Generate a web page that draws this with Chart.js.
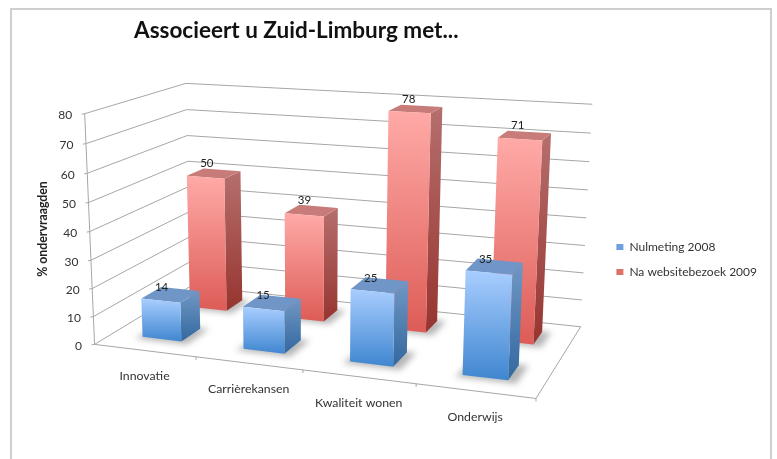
<!DOCTYPE html>
<html lang="nl">
  <head>
    <meta charset="utf-8" />
    <title>Associeert u Zuid-Limburg met...</title>
    <style>
      body { margin: 0; background: #fff; }
      #frame { position: absolute; left: 10px; top: 8px; width: 758px; height: 460px; border: 2px solid #cfcfcf; }
      canvas { position: absolute; left: 0; top: 0; filter: blur(0.4px); }
      #wrap { position: relative; width: 777px; height: 459px; overflow: hidden; }
    </style>
    <script src="https://cdn.jsdelivr.net/npm/chart.js@4"></script>
  </head>

  <body>
    <div id="wrap">
      <div id="frame"></div>
      <canvas id="compare" width="777" height="459"></canvas>
    </div>

    <script>
      var categories = ["Innovatie", "Carrièrekansen", "Kwaliteit wonen", "Onderwijs"];
      var nulmeting = [14, 15, 25, 35];
      var websitebezoek = [50, 39, 78, 71];
      var seriesNames = ["Nulmeting 2008", "Na websitebezoek 2009"];
      var axisTitle = "% ondervraagden";
      var chartTitle = "Associeert u Zuid-Limburg met...";

      // corners of the 3d box on screen: [along categories, depth, height] -> [x, y]
      var boxCorners = [
        [0, 0, 0, 95.7, 342.7],
        [1, 0, 0, 536, 400],
        [1, 1, 0, 581, 325],
        [0, 1, 0, 189.5, 288],
        [0, 0, 1, 83.5, 114],
        [0, 1, 1, 187.3, 82.7],
        [1, 1, 1, 592, 104.7],
      ];
      // depth slot of each series inside the box
      var depthSlots = [[0.17, 0.37], [0.67, 0.86]];
      var labelOffsets = [[-9, -7], [-7, -10]];
      var faceColors = [
        { front: ["#a9ceff", "#3f86d0"], side: ["#7097c4", "#33689f"], top: "#7096c8" },
        { front: ["#ffaaa7", "#dd5c57"], side: ["#b56f6d", "#97342f"], top: "#c77c79" },
      ];
      var font = "Lato, 'Open Sans', sans-serif";

      // least squares fit of the projection matrix from the corners
      function fitProjection(pts) {
        var rows = [], rhs = [];
        pts.forEach(function (p) {
          rows.push([p[0], p[1], p[2], 1, 0, 0, 0, 0, -p[3] * p[0], -p[3] * p[1], -p[3] * p[2]]);
          rhs.push(p[3]);
          rows.push([0, 0, 0, 0, p[0], p[1], p[2], 1, -p[4] * p[0], -p[4] * p[1], -p[4] * p[2]]);
          rhs.push(p[4]);
        });
        var n = 11, m = [];
        for (var i = 0; i < n; i++) {
          m[i] = [];
          for (var j = 0; j <= n; j++) {
            var s = 0;
            rows.forEach(function (r, k) { s += r[i] * (j < n ? r[j] : rhs[k]); });
            m[i][j] = s;
          }
        }
        for (var c = 0; c < n; c++) {
          var best = c;
          for (var r = c + 1; r < n; r++) if (Math.abs(m[r][c]) > Math.abs(m[best][c])) best = r;
          var tmp = m[c]; m[c] = m[best]; m[best] = tmp;
          for (var r2 = 0; r2 < n; r2++) {
            if (r2 == c) continue;
            var f = m[r2][c] / m[c][c];
            for (var k = c; k <= n; k++) m[r2][k] -= f * m[c][k];
          }
        }
        return m.map(function (row, idx) { return row[n] / row[idx]; });
      }

      var P = fitProjection(boxCorners);
      function project(u, v, h) {
        var d = P[8] * u + P[9] * v + P[10] * h + 1;
        return {
          x: (P[0] * u + P[1] * v + P[2] * h + P[3]) / d,
          y: (P[4] * u + P[5] * v + P[6] * h + P[7]) / d,
        };
      }

      function path(ctx, pts) {
        ctx.beginPath();
        pts.forEach(function (p, i) {
          if (i == 0) ctx.moveTo(p.x, p.y);
          else ctx.lineTo(p.x, p.y);
        });
        ctx.closePath();
      }

      function line(ctx, a, b) {
        ctx.beginPath();
        ctx.moveTo(a.x, a.y);
        ctx.lineTo(b.x, b.y);
        ctx.stroke();
      }

      function vGrad(ctx, top, bottom, cols) {
        var g = ctx.createLinearGradient(0, top, 0, bottom);
        g.addColorStop(0, cols[0]);
        g.addColorStop(1, cols[1]);
        return g;
      }

      function drawBox(c) {
        var ctx = c.ctx;
        ctx.save();
        ctx.lineWidth = 1;
        ctx.strokeStyle = "#a6a6a6";
        var x = c.scales.x, y = c.scales.y;
        y.ticks.forEach(function (t) {
          var h = (y.bottom - y.getPixelForValue(t.value)) / y.height;
          var a = project(0, 0, h), b = project(0, 1, h), e = project(1, 1, h);
          line(ctx, a, b);
          line(ctx, b, e);
          line(ctx, a, { x: a.x - 3, y: a.y + 0.5 });
          ctx.font = "12px " + font;
          ctx.fillStyle = "#333";
          ctx.textAlign = "right";
          ctx.textBaseline = "middle";
          ctx.fillText(t.label, a.x - 12.5, a.y + 1.5);
        });
        line(ctx, project(0, 0, 0), project(0, 0, 1));
        line(ctx, project(0, 0, 0), project(1, 0, 0));
        line(ctx, project(1, 0, 0), project(1, 1, 0));

        categories.forEach(function (name, i) {
          var t = project((i + 1) / categories.length, 0, 0);
          line(ctx, t, { x: t.x, y: t.y + 3 });
          var m = project((x.getPixelForValue(i) - x.left) / x.width, 0, 0);
          ctx.font = "12.3px " + font;
          ctx.fillStyle = "#333";
          ctx.textAlign = "center";
          ctx.textBaseline = "middle";
          ctx.fillText(name, m.x, m.y + 26);
        });

        ctx.translate(43, 229);
        ctx.rotate(-Math.PI / 2);
        ctx.font = "bold 12.3px " + font;
        ctx.fillStyle = "#222";
        ctx.textAlign = "center";
        ctx.textBaseline = "middle";
        ctx.fillText(axisTitle, 0, 0);
        ctx.restore();
      }

      function drawBar(c, bar, cols, slot, offset, value) {
        var ctx = c.ctx, area = c.chartArea;
        var u0 = (bar.x - bar.width / 2 - area.left) / area.width;
        var u1 = (bar.x + bar.width / 2 - area.left) / area.width;
        var h = (bar.base - bar.y) / area.height;
        var v0 = slot[0], v1 = slot[1];

        // soft shadow on the floor
        ctx.save();
        ctx.filter = "blur(3px)";
        ctx.fillStyle = "rgba(90,90,90,0.45)";
        path(ctx, [project(u0 - 0.012, v0 - 0.03, 0), project(u1 + 0.02, v0 - 0.03, 0), project(u1 + 0.02, v1 + 0.01, 0), project(u0, v1, 0)]);
        ctx.fill();
        ctx.restore();

        var fl = project(u0, v0, h), fr = project(u1, v0, h);
        var bl = project(u0, v1, h), br = project(u1, v1, h);
        var flb = project(u0, v0, 0), frb = project(u1, v0, 0), brb = project(u1, v1, 0);

        ctx.fillStyle = vGrad(ctx, Math.min(fr.y, br.y), Math.max(frb.y, brb.y), cols.side);
        path(ctx, [fr, br, brb, frb]);
        ctx.fill();
        ctx.fillStyle = cols.top;
        path(ctx, [fl, fr, br, bl]);
        ctx.fill();
        ctx.fillStyle = vGrad(ctx, Math.min(fl.y, fr.y), Math.max(flb.y, frb.y), cols.front);
        path(ctx, [fl, fr, frb, flb]);
        ctx.fill();

        var mid = project((u0 + u1) / 2, (v0 + v1) / 2, h);
        ctx.font = "11.5px " + font;
        ctx.fillStyle = "#222";
        ctx.textAlign = "center";
        ctx.textBaseline = "middle";
        ctx.fillText(value, mid.x + offset[0], mid.y + offset[1]);
      }

      // the bars are laid out by chart.js, this only draws them in perspective
      var perspective3d = {
        id: "perspective3d",
        beforeDatasetsDraw: function (c) {
          drawBox(c);
          [1, 0].forEach(function (d) {
            c.getDatasetMeta(d).data.forEach(function (bar, i) {
              drawBar(c, bar, faceColors[d], depthSlots[d], labelOffsets[d], c.data.datasets[d].data[i]);
            });
          });
          return false;
        },
      };

      var chart = new Chart(document.getElementById("compare").getContext("2d"), {
        type: "bar",
        data: {
          labels: categories,
          datasets: [
            { label: seriesNames[0], data: nulmeting, backgroundColor: "#6f9fe0", grouped: false },
            { label: seriesNames[1], data: websitebezoek, backgroundColor: "#e0706a", grouped: false },
          ],
        },
        plugins: [perspective3d],
        options: {
          responsive: false,
          animation: false,
          categoryPercentage: 0.625,
          barPercentage: 0.625,
          layout: { padding: { left: 134, right: 10, top: 17, bottom: 43 } },
          scales: {
            x: { display: false },
            y: { display: false, min: 0, max: 80, ticks: { stepSize: 10 } },
          },
          plugins: {
            tooltip: { enabled: false },
            title: {
              display: true,
              text: chartTitle,
              align: "start",
              color: "#111",
              font: { family: font, size: 22.5, weight: "bold" },
              padding: { top: 0, bottom: 59 },
            },
            legend: {
              position: "right",
              fullSize: false,
              labels: {
                boxWidth: 7,
                boxHeight: 6,
                padding: 13,
                color: "#333",
                font: { family: font, size: 12 },
              },
            },
          },
        },
      });
    </script>
  </body>
</html>
